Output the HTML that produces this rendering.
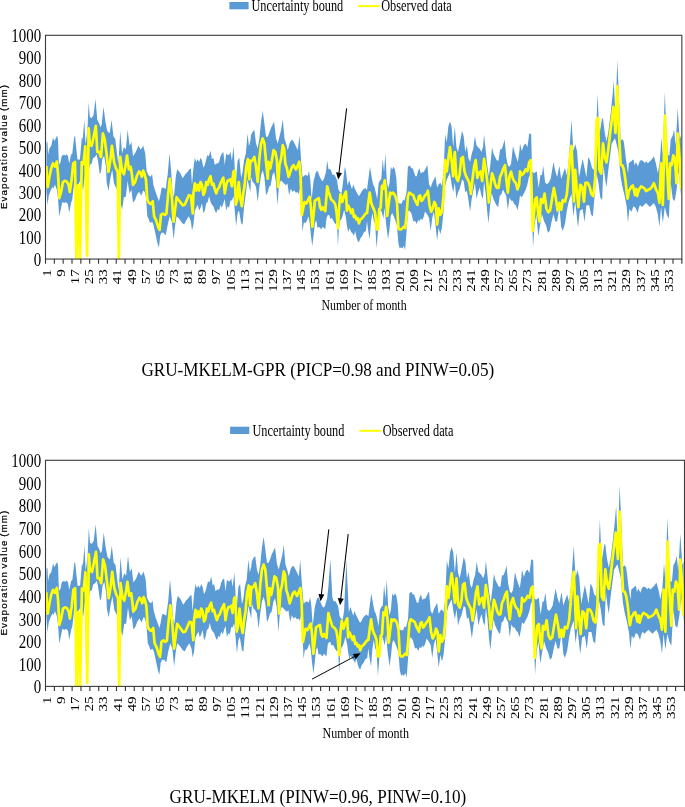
<!DOCTYPE html>
<html><head><meta charset="utf-8"><style>
html,body{margin:0;padding:0;background:#fff;width:685px;height:807px;overflow:hidden}
svg{display:block;will-change:transform}
.yl{font-family:"Liberation Serif",serif;font-size:19.5px;fill:#000}
.xl{font-family:"Liberation Serif",serif;font-size:15px;fill:#000}
.lg{font-family:"Liberation Serif",serif;font-size:16px;fill:#000}
.xt{font-family:"Liberation Serif",serif;font-size:14.7px;fill:#000}
.yt{font-family:"Liberation Sans",sans-serif;font-size:9.8px;letter-spacing:1.0px;word-spacing:-1.2px;fill:#000;stroke:#000;stroke-width:0.22px}
.cap{font-family:"Liberation Serif",serif;font-size:18px;fill:#000}
</style></head><body>
<svg width="685" height="807" viewBox="0 0 685 807">
<defs><marker id="ah" viewBox="0 0 10 10" refX="10" refY="5" markerWidth="6" markerHeight="7" orient="auto" markerUnits="userSpaceOnUse"><path d="M0,0L10,5L0,10z" fill="#000"/></marker></defs>
<rect x="229.4" y="2.0" width="19.2" height="7.3" fill="#5b9bd5"/>
<text transform="translate(251.5,10.7) scale(0.768,1)" class="lg">Uncertainty bound</text>
<line x1="358.1" y1="6.1" x2="379.7" y2="6.1" stroke="#ffff00" stroke-width="2"/>
<text transform="translate(381.2,10.7) scale(0.768,1)" class="lg">Observed data</text>
<clipPath id="cp1"><rect x="45.5" y="35.3" width="636.35" height="223.75"/></clipPath>
<g clip-path="url(#cp1)">
<polygon points="46.38,144.87 46.74,141.16 47.48,142.39 48.10,154.78 49.34,148.58 51.19,146.10 53.05,137.44 54.29,141.16 55.54,138.67 57.15,135.58 58.01,139.90 58.88,164.69 60.49,162.21 61.73,156.01 63.58,154.78 65.44,155.41 66.69,154.16 67.93,156.01 69.17,163.46 71.02,154.78 72.26,153.55 74.12,137.44 75.00,135.85 77.48,159.39 79.95,159.39 81.82,137.08 82.69,139.57 84.30,119.74 85.54,144.51 87.39,130.89 88.63,102.40 89.87,117.26 91.72,117.89 93.58,114.78 95.45,98.67 97.31,119.74 99.17,123.46 100.40,127.17 101.64,124.69 103.50,106.72 105.35,120.97 107.23,130.89 109.70,133.37 111.56,119.74 113.41,136.46 115.27,138.94 117.12,154.45 118.38,164.36 120.24,130.89 122.09,153.19 123.95,147.00 125.80,149.48 127.66,129.66 129.53,145.77 131.39,142.05 133.00,156.35 135.72,152.25 138.46,145.45 140.49,149.55 141.85,148.18 143.22,145.45 145.27,153.62 146.63,171.34 148.68,175.41 150.71,176.78 152.07,174.07 153.43,184.97 155.48,191.77 157.53,197.23 158.89,201.30 160.26,195.86 161.62,187.67 163.65,187.67 165.70,189.04 167.75,174.07 169.52,152.95 171.14,171.34 172.50,191.77 173.87,197.23 175.92,175.41 177.28,169.28 180.00,172.70 182.72,178.14 185.46,174.07 187.49,172.01 189.54,169.28 190.91,168.61 192.00,184.83 193.43,167.74 194.85,157.76 196.28,162.03 197.69,159.19 199.13,162.03 200.56,157.76 201.97,160.62 203.40,167.74 204.82,164.90 206.25,159.19 207.38,154.92 208.81,156.35 210.53,150.64 211.94,159.19 213.37,157.76 214.80,164.90 216.22,163.46 217.65,163.46 219.06,162.03 220.50,156.35 221.91,153.48 223.34,152.08 224.77,164.90 226.19,153.48 227.62,154.92 229.03,154.92 230.47,152.08 231.90,160.62 233.59,146.37 234.74,167.74 236.16,179.13 237.59,160.62 239.30,157.76 241.14,177.72 242.57,172.01 244.01,160.62 245.84,153.48 247.56,133.55 248.99,146.37 250.40,140.66 251.01,135.09 252.68,131.76 254.35,130.08 256.03,143.46 257.69,148.47 259.37,138.45 261.05,121.71 262.71,110.86 264.39,123.39 266.05,136.77 267.73,136.77 269.07,133.44 270.73,128.40 272.41,125.07 274.07,121.71 276.09,138.45 277.77,143.46 279.43,136.77 281.11,130.08 282.77,119.21 284.45,138.45 286.13,143.46 287.79,150.15 289.47,143.46 291.13,140.13 292.81,140.13 294.49,143.46 296.15,146.82 297.83,150.15 299.49,135.09 301.17,161.85 302.51,177.31 303.81,176.02 305.77,174.72 307.71,176.02 309.02,170.83 310.31,179.93 311.62,199.44 313.56,181.23 315.52,173.42 316.81,170.83 318.12,172.12 319.43,176.02 321.38,179.93 322.68,181.23 323.97,178.63 325.94,172.12 327.23,160.40 328.53,169.51 329.84,168.86 331.13,170.83 332.44,174.72 334.39,174.72 335.69,177.31 336.98,179.93 338.29,189.04 339.60,191.63 341.54,192.93 342.85,183.83 344.80,166.91 345.96,170.83 347.57,185.39 349.22,180.33 350.72,185.39 351.99,189.20 353.25,184.14 354.52,187.92 356.41,191.72 358.32,195.50 359.57,195.50 361.47,191.72 363.37,189.20 365.27,187.92 367.02,189.96 368.38,179.06 370.00,166.80 371.77,177.69 373.13,184.52 374.49,187.23 375.85,192.69 377.23,199.49 378.59,183.15 379.95,180.42 381.32,179.06 382.68,158.63 384.04,172.26 385.40,153.17 386.76,180.42 388.12,188.59 389.48,183.15 390.84,166.80 392.20,169.53 393.57,166.80 394.94,169.53 396.31,177.69 397.67,202.22 399.70,203.58 401.75,203.58 403.11,199.49 404.47,200.85 406.52,192.69 407.88,166.80 409.92,165.43 411.28,168.16 412.66,168.16 414.02,172.26 415.38,176.33 416.74,176.33 418.10,170.89 419.46,168.16 420.82,173.60 422.18,172.26 423.54,172.26 425.01,169.75 427.42,164.92 429.04,184.25 430.65,187.47 432.26,182.64 433.87,179.42 435.48,176.20 437.09,187.47 438.69,184.25 440.30,182.64 441.91,185.86 443.52,172.97 445.15,134.33 446.75,142.36 448.36,126.28 449.97,121.44 451.58,126.28 453.19,147.20 454.80,126.28 456.41,147.20 458.01,152.03 459.62,143.98 462.04,131.11 463.65,135.94 465.26,152.03 466.87,145.59 468.50,158.47 470.10,161.70 471.71,153.64 473.32,148.81 474.93,135.94 476.54,145.59 478.15,147.20 479.76,148.81 481.36,152.03 482.97,147.20 484.02,134.67 485.62,149.14 487.23,165.25 488.84,176.53 490.45,163.64 492.06,147.56 493.67,153.98 495.28,157.20 496.88,160.42 498.51,160.42 500.12,149.14 501.73,149.14 503.34,144.33 504.63,139.50 506.24,157.20 507.84,165.25 509.45,166.87 511.06,163.64 512.99,145.94 514.61,152.37 516.22,157.20 517.83,162.03 519.44,150.75 520.00,143.46 521.86,150.89 523.73,145.32 525.59,143.46 527.45,147.18 529.30,133.24 531.16,134.15 532.10,171.34 533.95,173.20 536.74,171.34 538.60,188.08 540.46,175.05 541.94,175.05 543.25,165.77 545.11,182.48 546.96,184.34 548.82,182.48 550.67,178.77 553.47,162.05 555.32,171.34 557.18,176.91 559.42,165.77 561.21,179.06 563.12,173.29 565.01,168.07 566.87,175.50 568.72,160.62 571.51,119.74 573.37,151.34 575.23,143.91 577.10,151.34 578.96,177.36 580.81,168.07 582.67,158.77 584.52,168.07 586.38,177.36 588.25,156.91 590.11,160.62 591.97,168.07 593.82,169.93 595.68,145.77 597.53,93.72 599.41,134.60 602.18,117.89 603.01,118.98 604.75,132.86 606.48,141.54 608.21,132.86 610.83,112.05 612.56,94.71 613.76,80.81 615.51,117.26 617.24,60.00 618.62,89.49 620.65,140.42 622.39,139.10 623.68,141.27 624.56,147.35 625.85,158.63 627.16,167.29 628.03,173.38 628.89,162.95 630.18,162.10 631.49,161.23 632.80,159.48 633.66,160.35 634.53,165.57 635.82,162.10 637.13,164.69 637.99,166.42 639.30,162.10 640.59,160.35 641.90,160.35 643.19,161.23 645.03,162.95 645.97,161.29 647.95,163.26 649.93,161.29 651.91,159.30 653.89,156.33 655.87,163.26 657.86,173.17 659.84,161.29 661.43,137.49 662.81,155.34 664.79,91.89 666.38,129.57 667.76,155.34 669.35,155.34 670.75,139.48 672.73,135.52 674.11,129.57 675.70,145.43 677.68,107.75 679.66,139.48 680.97,135.52 680.97,194.99 680.65,191.03 678.67,171.21 676.69,189.04 674.71,200.94 672.73,198.95 670.75,183.09 668.77,218.78 666.77,214.81 664.79,206.89 662.81,222.74 661.03,206.89 659.44,226.72 657.86,214.81 655.87,206.89 653.89,202.91 651.91,204.90 649.93,206.89 647.95,204.90 645.97,202.91 643.97,204.90 641.99,206.89 640.01,204.90 638.88,207.65 637.52,213.11 635.48,207.65 633.43,206.29 631.38,211.75 629.35,209.02 627.99,222.65 626.63,206.29 624.58,195.39 622.53,187.23 620.50,176.33 618.44,151.81 615.05,138.18 611.64,143.62 610.28,154.51 608.23,170.87 606.46,187.23 605.51,181.77 603.46,165.43 602.18,199.67 600.33,197.81 598.47,182.93 596.61,173.64 594.76,194.10 592.88,216.40 591.03,214.55 589.17,205.24 586.38,205.24 584.52,221.97 582.67,208.95 579.87,210.81 578.02,227.55 575.23,201.52 573.37,216.40 571.51,194.10 568.72,201.52 566.87,210.81 565.01,223.83 562.75,230.88 561.21,227.03 559.42,206.65 557.18,221.53 555.32,221.53 553.47,214.10 551.61,221.53 549.75,230.81 547.90,232.67 546.02,225.24 544.17,221.53 541.94,214.10 540.09,225.24 538.23,236.38 536.37,214.10 534.52,225.24 533.01,247.55 531.90,212.24 530.79,180.63 529.30,175.05 527.45,184.34 525.59,189.93 523.73,193.65 521.86,197.36 520.00,195.50 519.12,202.28 517.51,210.34 515.89,205.51 514.28,203.90 512.67,200.67 511.06,200.67 509.45,197.47 507.84,210.34 506.24,195.86 504.63,192.64 503.02,189.42 501.41,194.25 499.78,195.86 498.17,207.12 496.57,205.51 494.96,202.28 493.35,199.09 491.74,192.64 490.13,205.51 488.52,223.23 487.23,211.95 485.62,192.64 484.02,181.36 482.97,198.73 481.36,195.50 479.76,187.47 478.15,192.31 476.54,198.73 474.93,182.64 473.32,190.69 471.71,198.73 470.10,211.62 468.50,200.34 466.87,190.69 465.26,192.31 463.65,181.03 462.04,179.42 459.62,189.08 458.01,192.31 456.41,198.73 454.80,182.64 453.19,192.31 451.58,184.25 449.97,172.97 448.36,176.20 446.75,179.42 445.15,185.86 443.52,211.62 441.91,227.73 440.30,234.17 438.69,227.73 437.09,240.61 435.48,224.50 433.87,211.62 432.26,218.06 430.65,230.95 429.04,218.06 427.42,214.84 425.01,211.62 423.54,217.21 422.18,219.94 420.82,218.57 419.46,221.30 418.10,219.94 416.74,224.01 415.38,221.30 413.33,221.30 411.28,213.11 409.24,210.38 407.88,211.75 406.52,232.20 405.16,249.90 403.80,245.83 402.42,248.53 401.06,247.17 399.70,248.53 398.34,243.10 396.98,225.38 395.62,221.30 393.57,215.84 392.20,213.11 390.84,215.84 389.48,229.47 388.12,239.00 386.09,224.01 384.71,207.68 383.35,218.57 381.99,213.11 380.63,209.04 379.27,215.84 377.90,232.20 376.54,248.53 375.18,224.01 373.82,221.30 372.46,213.11 371.10,221.30 369.74,239.00 368.38,232.20 367.02,221.30 365.90,230.90 363.99,232.18 362.10,235.96 360.21,238.49 358.94,242.29 357.68,241.02 356.41,237.23 355.15,230.90 353.88,235.96 352.63,233.43 351.35,232.18 349.46,228.37 348.19,232.18 346.94,225.85 345.96,217.66 344.14,209.85 342.85,215.06 341.54,218.95 340.24,220.25 338.95,228.06 337.90,246.27 336.98,222.87 335.69,224.17 334.39,222.87 333.09,220.25 331.79,217.66 330.48,218.95 329.19,215.06 327.88,215.06 326.59,217.66 325.28,229.36 323.97,228.06 322.68,226.76 321.38,229.36 320.07,228.06 318.78,226.76 317.47,228.06 316.18,220.25 314.87,222.87 313.56,235.87 312.27,246.27 310.96,235.87 309.67,222.87 308.37,216.36 307.06,220.25 305.77,222.87 303.81,222.87 302.51,231.98 301.21,202.04 299.92,189.04 298.61,194.23 297.30,191.63 296.01,192.93 294.15,190.29 292.47,191.95 290.81,188.61 289.13,195.30 287.45,183.60 285.79,185.26 284.11,183.60 282.45,181.92 280.77,180.25 279.09,185.26 277.43,205.33 275.75,180.25 274.07,171.90 272.41,175.23 270.73,185.26 269.07,186.94 267.73,191.95 266.05,195.30 264.39,176.91 262.71,170.22 261.05,175.23 259.37,186.94 257.69,201.99 256.03,186.94 254.35,183.60 252.68,181.92 251.01,176.91 250.40,191.95 248.99,186.26 247.56,179.13 245.84,193.38 244.01,207.63 242.57,224.70 241.14,223.29 239.02,210.47 237.59,213.32 236.16,226.14 234.74,210.47 233.59,196.22 231.90,200.49 230.47,200.49 229.03,207.63 227.62,206.20 226.19,210.47 224.77,199.09 223.34,203.36 221.91,207.63 220.50,204.77 219.06,210.47 217.65,209.04 216.22,213.32 214.80,210.47 213.37,206.20 211.94,204.77 210.53,201.93 209.09,196.22 207.68,201.93 206.25,203.36 204.82,210.47 203.40,213.32 201.97,203.36 200.56,207.63 199.13,210.47 197.69,204.77 196.28,207.63 194.85,210.47 193.43,224.70 192.00,230.41 190.91,221.75 188.86,216.29 186.13,220.39 184.10,224.46 182.05,223.12 179.33,219.02 176.61,216.29 175.24,224.46 173.60,239.45 171.83,221.75 169.78,216.29 167.75,224.46 165.70,235.38 163.65,232.65 161.62,232.65 160.26,235.38 158.89,247.64 157.53,243.54 155.48,234.01 153.43,224.46 152.07,221.75 150.04,223.12 148.68,219.02 147.32,216.29 145.94,197.23 144.58,191.77 143.22,190.40 141.18,195.86 139.13,191.77 137.08,194.50 135.05,199.94 133.00,202.67 131.39,189.64 129.53,193.38 127.66,180.98 125.80,197.09 123.95,197.09 122.09,209.49 120.24,202.04 117.76,190.90 115.89,187.18 114.03,183.47 112.18,169.82 110.32,178.50 108.46,190.90 106.61,182.21 105.99,166.82 104.11,155.68 102.26,159.39 101.02,171.79 99.78,174.27 97.93,160.62 96.69,154.45 94.83,156.91 92.96,158.16 91.72,163.62 89.87,164.87 88.63,171.07 86.77,173.56 84.92,174.79 83.06,189.64 81.82,187.18 79.95,180.98 78.10,185.93 76.24,185.93 75.00,174.79 72.26,199.40 71.02,203.11 69.17,213.02 67.93,204.34 66.06,201.88 64.20,203.11 62.35,201.88 60.49,210.54 59.25,216.74 58.01,198.15 56.78,189.49 54.92,184.52 53.67,188.23 52.43,187.00 50.57,190.72 48.72,195.68 47.48,205.60 46.49,191.95 46.38,189.49" fill="#5b9bd5"/>
<polyline points="46.38,165.93 46.86,179.57 47.73,187.00 49.34,177.09 51.19,168.41 53.05,163.46 54.92,166.55 56.78,161.61 58.01,173.38 59.25,198.15 61.11,191.95 62.96,182.04 64.82,180.80 66.69,181.43 68.55,184.52 69.79,191.95 71.64,179.57 73.25,163.46 75.00,161.88 76.43,259.05 78.20,185.21 79.97,259.05 81.74,162.17 83.50,163.96 85.27,146.06 87.04,255.69 88.63,128.42 89.87,144.51 91.72,145.77 93.58,137.08 95.82,125.94 97.31,151.96 99.17,151.96 101.02,156.91 102.88,133.37 104.73,139.57 106.61,154.45 108.46,171.79 110.32,160.62 111.93,145.77 114.03,161.88 115.89,168.07 117.76,171.79 118.86,259.05 120.24,156.91 122.09,170.53 123.95,174.27 125.80,164.36 127.04,155.68 128.90,169.30 130.77,166.82 132.01,175.50 133.00,184.97 135.05,182.24 137.08,175.41 139.13,171.34 140.49,172.70 141.85,176.78 143.22,170.65 144.58,174.07 145.94,179.51 147.32,199.94 148.68,202.67 150.71,204.03 152.76,201.30 154.12,216.29 156.17,220.39 158.20,227.19 159.57,229.92 160.93,214.93 162.98,213.56 165.03,214.93 166.39,213.56 168.16,194.50 169.78,178.84 171.83,197.23 173.60,221.75 175.24,208.12 176.61,197.23 178.64,199.94 180.69,202.67 182.72,205.39 184.77,204.72 186.82,199.94 188.86,195.17 190.91,195.86 192.71,213.32 193.43,193.38 194.85,183.40 196.28,190.54 197.69,184.83 199.13,190.54 200.56,181.99 201.97,184.83 203.40,194.81 204.82,191.95 206.25,181.99 207.68,184.83 209.09,179.13 210.53,176.28 211.94,184.83 213.37,183.40 214.80,189.11 216.22,193.38 217.65,189.11 219.06,187.67 220.50,183.40 221.91,180.56 223.34,177.72 224.77,193.38 226.19,184.83 227.62,180.56 229.03,180.56 230.47,179.13 231.90,186.26 233.31,172.01 234.46,170.58 235.87,204.77 237.31,199.09 238.72,181.99 240.44,199.09 241.87,206.20 243.28,193.38 244.71,184.83 246.13,167.74 247.84,159.19 249.27,179.13 250.40,160.62 251.01,161.85 252.68,160.17 254.35,156.84 256.03,166.87 257.69,181.92 259.37,158.52 261.05,143.46 262.71,138.45 264.39,143.46 266.05,161.85 267.73,178.59 268.56,161.85 270.24,168.54 271.90,160.17 273.58,150.15 275.26,151.83 276.92,160.17 278.10,186.94 279.43,165.21 281.11,158.52 282.77,145.14 284.11,148.47 285.28,163.53 286.96,168.54 288.64,176.91 290.30,171.90 291.98,166.87 293.64,165.21 295.32,168.54 296.01,169.51 299.26,161.72 300.55,176.02 301.86,215.06 303.17,208.55 304.46,202.04 306.42,203.34 308.37,199.44 309.67,196.85 310.96,207.25 312.27,226.76 313.56,215.06 314.87,200.74 316.81,199.44 318.78,198.15 320.07,207.25 321.38,209.85 322.68,207.25 323.97,209.20 325.28,211.15 327.23,186.42 328.53,191.63 329.84,195.53 331.13,199.44 332.69,200.74 334.00,202.04 335.30,204.63 336.59,212.44 337.90,228.06 339.19,205.95 340.50,194.23 342.20,202.04 344.14,195.53 345.96,191.63 346.94,210.68 348.19,205.62 349.46,208.15 351.35,213.20 352.63,209.42 353.88,217.01 355.15,215.73 356.41,219.54 357.68,218.26 358.94,223.32 360.21,219.54 362.10,218.26 363.99,215.73 365.90,213.20 367.02,213.11 368.38,202.22 369.74,192.69 371.10,202.22 372.46,206.31 373.82,209.04 375.18,213.11 376.54,229.47 377.90,229.47 379.27,209.04 380.63,207.68 381.99,185.86 383.35,188.59 384.71,180.42 386.09,192.69 387.17,215.84 388.53,204.95 390.17,192.69 391.53,194.05 392.89,192.69 394.26,194.05 395.62,196.78 396.98,202.22 398.34,228.11 399.70,229.47 401.06,229.47 402.42,228.11 403.80,226.74 405.16,228.11 406.52,215.84 407.88,196.78 409.24,192.69 411.28,194.05 413.33,195.42 414.69,199.49 416.05,202.22 417.41,204.95 418.77,196.78 420.13,195.42 421.51,200.85 422.87,199.49 424.23,196.78 425.01,195.50 426.62,193.89 427.91,190.69 429.52,205.17 431.13,211.62 432.74,208.39 434.35,201.95 435.95,205.17 437.09,224.50 438.69,208.39 440.30,214.84 441.91,211.62 443.52,195.50 445.15,160.09 446.75,171.36 448.36,158.47 449.97,147.20 451.58,160.09 453.19,176.20 454.80,152.03 456.41,177.81 458.01,181.03 459.62,174.58 461.25,158.47 462.86,156.86 464.47,171.36 466.07,176.20 467.68,179.42 469.29,182.64 470.90,193.89 472.51,179.42 474.12,166.53 475.73,160.09 477.35,177.81 478.96,172.97 480.57,171.36 482.18,181.03 484.02,158.81 485.62,168.48 487.23,181.36 488.84,202.28 490.45,186.20 492.06,173.31 493.67,178.14 495.28,184.59 496.88,187.81 498.51,187.81 500.12,176.53 501.73,173.31 503.34,168.48 504.94,165.25 506.55,181.36 507.84,192.64 509.45,176.53 511.06,171.70 512.67,178.14 514.28,181.36 515.89,182.98 517.51,189.42 519.12,184.59 520.00,171.34 521.86,175.05 523.73,173.20 525.59,169.48 527.45,171.34 529.30,162.05 530.79,160.17 532.64,230.81 533.95,214.10 535.26,199.22 536.74,197.36 538.23,214.10 539.52,221.53 540.83,199.22 542.68,202.93 544.54,193.65 546.41,208.50 548.27,212.24 550.13,210.36 551.98,199.22 553.84,188.08 555.69,197.36 557.55,210.36 559.42,202.93 561.21,209.76 562.75,200.16 565.01,201.52 566.87,194.10 568.72,173.64 570.22,155.05 571.51,145.77 572.82,173.64 573.94,201.52 575.23,169.93 576.53,186.64 578.39,207.10 580.25,184.79 582.12,186.64 583.98,201.52 585.46,182.93 587.69,182.93 589.54,186.64 591.40,194.10 593.27,195.95 595.13,179.22 596.61,119.74 598.10,117.89 599.41,169.93 601.26,173.64 603.01,143.28 604.75,157.15 606.48,162.37 608.21,150.22 609.96,134.60 611.69,120.73 613.42,106.83 615.51,132.86 617.24,86.02 618.98,132.86 620.65,164.69 622.39,165.57 623.68,169.04 624.99,176.84 625.85,183.78 626.72,192.44 627.58,198.53 628.89,190.72 630.18,188.97 631.49,186.38 632.80,185.50 634.09,190.72 634.95,195.06 636.26,188.97 637.13,195.91 637.99,192.44 639.30,188.97 641.04,186.38 642.77,187.25 645.03,188.97 645.97,191.03 647.95,190.02 649.93,189.04 651.91,187.05 653.89,183.09 655.87,189.04 657.86,193.00 659.44,202.91 661.03,163.26 662.81,204.90 664.99,115.69 666.77,163.26 668.77,198.95 670.15,163.26 671.74,165.25 673.31,155.34 674.90,159.30 676.49,183.09 677.68,133.53 679.66,159.30 680.97,189.04" fill="none" stroke="#ffff00" stroke-width="2.7" stroke-linejoin="round"/>
</g>
<rect x="45.5" y="35.3" width="636.35" height="223.75" fill="none" stroke="#3a3a3a" stroke-width="1.1"/>
<path d="M45.50,259.05v4.6 M54.34,259.05v4.6 M63.18,259.05v4.6 M72.01,259.05v4.6 M80.85,259.05v4.6 M89.69,259.05v4.6 M98.53,259.05v4.6 M107.37,259.05v4.6 M116.21,259.05v4.6 M125.04,259.05v4.6 M133.88,259.05v4.6 M142.72,259.05v4.6 M151.56,259.05v4.6 M160.40,259.05v4.6 M169.23,259.05v4.6 M178.07,259.05v4.6 M186.91,259.05v4.6 M195.75,259.05v4.6 M204.59,259.05v4.6 M213.43,259.05v4.6 M222.26,259.05v4.6 M231.10,259.05v4.6 M239.94,259.05v4.6 M248.78,259.05v4.6 M257.62,259.05v4.6 M266.45,259.05v4.6 M275.29,259.05v4.6 M284.13,259.05v4.6 M292.97,259.05v4.6 M301.81,259.05v4.6 M310.65,259.05v4.6 M319.48,259.05v4.6 M328.32,259.05v4.6 M337.16,259.05v4.6 M346.00,259.05v4.6 M354.84,259.05v4.6 M363.68,259.05v4.6 M372.51,259.05v4.6 M381.35,259.05v4.6 M390.19,259.05v4.6 M399.03,259.05v4.6 M407.87,259.05v4.6 M416.70,259.05v4.6 M425.54,259.05v4.6 M434.38,259.05v4.6 M443.22,259.05v4.6 M452.06,259.05v4.6 M460.90,259.05v4.6 M469.73,259.05v4.6 M478.57,259.05v4.6 M487.41,259.05v4.6 M496.25,259.05v4.6 M505.09,259.05v4.6 M513.92,259.05v4.6 M522.76,259.05v4.6 M531.60,259.05v4.6 M540.44,259.05v4.6 M549.28,259.05v4.6 M558.12,259.05v4.6 M566.95,259.05v4.6 M575.79,259.05v4.6 M584.63,259.05v4.6 M593.47,259.05v4.6 M602.31,259.05v4.6 M611.14,259.05v4.6 M619.98,259.05v4.6 M628.82,259.05v4.6 M637.66,259.05v4.6 M646.50,259.05v4.6 M655.34,259.05v4.6 M664.17,259.05v4.6 M673.01,259.05v4.6 M681.85,259.05v4.6" stroke="#333" stroke-width="1.1"/>
<text x="0" y="0" transform="translate(41.2,266.35) scale(0.765,1)" text-anchor="end" class="yl">0</text>
<text x="0" y="0" transform="translate(41.2,243.91) scale(0.765,1)" text-anchor="end" class="yl">100</text>
<text x="0" y="0" transform="translate(41.2,221.47) scale(0.765,1)" text-anchor="end" class="yl">200</text>
<text x="0" y="0" transform="translate(41.2,199.03) scale(0.765,1)" text-anchor="end" class="yl">300</text>
<text x="0" y="0" transform="translate(41.2,176.59) scale(0.765,1)" text-anchor="end" class="yl">400</text>
<text x="0" y="0" transform="translate(41.2,154.15) scale(0.765,1)" text-anchor="end" class="yl">500</text>
<text x="0" y="0" transform="translate(41.2,131.71) scale(0.765,1)" text-anchor="end" class="yl">600</text>
<text x="0" y="0" transform="translate(41.2,109.27) scale(0.765,1)" text-anchor="end" class="yl">700</text>
<text x="0" y="0" transform="translate(41.2,86.83) scale(0.765,1)" text-anchor="end" class="yl">800</text>
<text x="0" y="0" transform="translate(41.2,64.39) scale(0.765,1)" text-anchor="end" class="yl">900</text>
<text x="0" y="0" transform="translate(41.2,41.95) scale(0.765,1)" text-anchor="end" class="yl">1000</text>
<text transform="translate(50.68,269.25) scale(0.85,1) rotate(-90)" text-anchor="end" class="xl">1</text>
<text transform="translate(64.82,269.25) scale(0.85,1) rotate(-90)" text-anchor="end" class="xl">9</text>
<text transform="translate(78.97,269.25) scale(0.85,1) rotate(-90)" text-anchor="end" class="xl">17</text>
<text transform="translate(93.11,269.25) scale(0.85,1) rotate(-90)" text-anchor="end" class="xl">25</text>
<text transform="translate(107.25,269.25) scale(0.85,1) rotate(-90)" text-anchor="end" class="xl">33</text>
<text transform="translate(121.39,269.25) scale(0.85,1) rotate(-90)" text-anchor="end" class="xl">41</text>
<text transform="translate(135.53,269.25) scale(0.85,1) rotate(-90)" text-anchor="end" class="xl">49</text>
<text transform="translate(149.67,269.25) scale(0.85,1) rotate(-90)" text-anchor="end" class="xl">57</text>
<text transform="translate(163.81,269.25) scale(0.85,1) rotate(-90)" text-anchor="end" class="xl">65</text>
<text transform="translate(177.95,269.25) scale(0.85,1) rotate(-90)" text-anchor="end" class="xl">73</text>
<text transform="translate(192.09,269.25) scale(0.85,1) rotate(-90)" text-anchor="end" class="xl">81</text>
<text transform="translate(206.24,269.25) scale(0.85,1) rotate(-90)" text-anchor="end" class="xl">89</text>
<text transform="translate(220.38,269.25) scale(0.85,1) rotate(-90)" text-anchor="end" class="xl">97</text>
<text transform="translate(234.52,269.25) scale(0.85,1) rotate(-90)" text-anchor="end" class="xl">105</text>
<text transform="translate(248.66,269.25) scale(0.85,1) rotate(-90)" text-anchor="end" class="xl">113</text>
<text transform="translate(262.80,269.25) scale(0.85,1) rotate(-90)" text-anchor="end" class="xl">121</text>
<text transform="translate(276.94,269.25) scale(0.85,1) rotate(-90)" text-anchor="end" class="xl">129</text>
<text transform="translate(291.08,269.25) scale(0.85,1) rotate(-90)" text-anchor="end" class="xl">137</text>
<text transform="translate(305.22,269.25) scale(0.85,1) rotate(-90)" text-anchor="end" class="xl">145</text>
<text transform="translate(319.36,269.25) scale(0.85,1) rotate(-90)" text-anchor="end" class="xl">153</text>
<text transform="translate(333.51,269.25) scale(0.85,1) rotate(-90)" text-anchor="end" class="xl">161</text>
<text transform="translate(347.65,269.25) scale(0.85,1) rotate(-90)" text-anchor="end" class="xl">169</text>
<text transform="translate(361.79,269.25) scale(0.85,1) rotate(-90)" text-anchor="end" class="xl">177</text>
<text transform="translate(375.93,269.25) scale(0.85,1) rotate(-90)" text-anchor="end" class="xl">185</text>
<text transform="translate(390.07,269.25) scale(0.85,1) rotate(-90)" text-anchor="end" class="xl">193</text>
<text transform="translate(404.21,269.25) scale(0.85,1) rotate(-90)" text-anchor="end" class="xl">201</text>
<text transform="translate(418.35,269.25) scale(0.85,1) rotate(-90)" text-anchor="end" class="xl">209</text>
<text transform="translate(432.49,269.25) scale(0.85,1) rotate(-90)" text-anchor="end" class="xl">217</text>
<text transform="translate(446.63,269.25) scale(0.85,1) rotate(-90)" text-anchor="end" class="xl">225</text>
<text transform="translate(460.78,269.25) scale(0.85,1) rotate(-90)" text-anchor="end" class="xl">233</text>
<text transform="translate(474.92,269.25) scale(0.85,1) rotate(-90)" text-anchor="end" class="xl">241</text>
<text transform="translate(489.06,269.25) scale(0.85,1) rotate(-90)" text-anchor="end" class="xl">249</text>
<text transform="translate(503.20,269.25) scale(0.85,1) rotate(-90)" text-anchor="end" class="xl">257</text>
<text transform="translate(517.34,269.25) scale(0.85,1) rotate(-90)" text-anchor="end" class="xl">265</text>
<text transform="translate(531.48,269.25) scale(0.85,1) rotate(-90)" text-anchor="end" class="xl">273</text>
<text transform="translate(545.62,269.25) scale(0.85,1) rotate(-90)" text-anchor="end" class="xl">281</text>
<text transform="translate(559.76,269.25) scale(0.85,1) rotate(-90)" text-anchor="end" class="xl">289</text>
<text transform="translate(573.90,269.25) scale(0.85,1) rotate(-90)" text-anchor="end" class="xl">297</text>
<text transform="translate(588.05,269.25) scale(0.85,1) rotate(-90)" text-anchor="end" class="xl">305</text>
<text transform="translate(602.19,269.25) scale(0.85,1) rotate(-90)" text-anchor="end" class="xl">313</text>
<text transform="translate(616.33,269.25) scale(0.85,1) rotate(-90)" text-anchor="end" class="xl">321</text>
<text transform="translate(630.47,269.25) scale(0.85,1) rotate(-90)" text-anchor="end" class="xl">329</text>
<text transform="translate(644.61,269.25) scale(0.85,1) rotate(-90)" text-anchor="end" class="xl">337</text>
<text transform="translate(658.75,269.25) scale(0.85,1) rotate(-90)" text-anchor="end" class="xl">345</text>
<text transform="translate(672.89,269.25) scale(0.85,1) rotate(-90)" text-anchor="end" class="xl">353</text>
<text transform="translate(7.0,209.00) scale(0.86,1) rotate(-90)" class="yt" style="letter-spacing:1.07px">Evaporation value (mm)</text>
<text transform="translate(321.4,310.1) scale(0.81,1)" class="xt">Number of month</text>
<line x1="346.6" y1="108.4" x2="338.90" y2="173.54" stroke="#000" stroke-width="1.05"/><polygon points="338.2,179.5 336.04,172.20 342.00,172.90" fill="#000"/>
<text transform="translate(141.4,375.7) scale(0.952,1)" class="cap">GRU-MKELM-GPR (PICP=0.98 and PINW=0.05)</text>
<rect x="230.1" y="426.7" width="19.2" height="7.3" fill="#5b9bd5"/>
<text transform="translate(252.4,435.7) scale(0.771,1)" class="lg">Uncertainty bound</text>
<line x1="359.4" y1="430.8" x2="381.2" y2="430.8" stroke="#ffff00" stroke-width="2"/>
<text transform="translate(382.7,435.7) scale(0.771,1)" class="lg">Observed data</text>
<clipPath id="cp2"><rect x="45.5" y="460.3" width="639.0" height="226.09999999999997"/></clipPath>
<g clip-path="url(#cp2)">
<polygon points="46.39,571.02 46.74,567.27 47.49,568.51 48.11,581.04 49.35,574.77 51.22,572.26 53.08,563.51 54.32,567.27 55.58,564.76 57.20,561.64 58.07,566.00 58.94,591.05 60.55,588.54 61.79,582.28 63.66,581.04 65.52,581.67 66.78,580.40 68.02,582.28 69.27,589.81 71.13,581.04 72.37,579.79 74.24,563.51 75.12,561.91 77.61,585.70 80.09,585.70 81.98,563.15 82.85,565.66 84.46,545.63 85.70,570.66 87.57,556.89 88.81,528.11 90.05,543.12 91.92,543.75 93.78,540.61 95.66,524.33 97.53,545.63 99.39,549.38 100.63,553.14 101.87,550.63 103.74,532.47 105.60,546.87 107.48,556.89 109.97,559.40 111.83,545.63 113.70,562.52 115.56,565.03 117.42,580.70 118.68,590.71 120.55,556.89 122.41,579.43 124.27,573.17 126.14,575.68 128.00,555.65 129.88,571.93 131.75,568.17 133.36,582.62 136.10,578.48 138.85,571.61 140.89,575.75 142.26,574.37 143.62,571.61 145.68,579.86 147.05,597.77 149.11,601.88 151.15,603.26 152.51,600.53 153.88,611.54 155.94,618.41 158.00,623.93 159.37,628.04 160.73,622.55 162.10,614.27 164.14,614.27 166.20,615.65 168.26,600.53 170.03,579.18 171.67,597.77 173.03,618.41 174.40,623.93 176.46,601.88 177.83,595.69 180.56,599.15 183.29,604.64 186.04,600.53 188.09,598.45 190.14,595.69 191.51,595.01 192.61,611.40 194.05,594.13 195.47,584.04 196.91,588.36 198.33,585.49 199.77,588.36 201.20,584.04 202.62,586.94 204.06,594.13 205.48,591.26 206.92,585.49 208.05,581.17 209.49,582.62 211.21,576.85 212.63,585.49 214.07,584.04 215.51,591.26 216.93,589.81 218.37,589.81 219.79,588.36 221.22,582.62 222.64,579.73 224.08,578.30 225.52,591.26 226.94,579.73 228.38,581.17 229.80,581.17 231.24,578.30 232.67,586.94 234.38,572.54 235.53,594.13 236.95,605.64 238.39,586.94 240.11,584.04 241.96,604.21 243.39,598.45 244.83,586.94 246.68,579.73 248.40,559.58 249.84,572.54 251.26,566.77 251.86,561.14 253.55,557.77 255.22,556.08 256.90,569.60 258.57,574.66 260.26,564.53 261.94,547.62 263.61,536.65 265.30,549.32 266.97,562.84 268.65,562.84 270.00,559.47 271.67,554.38 273.36,551.01 275.03,547.62 277.05,564.53 278.74,569.60 280.40,562.84 282.09,556.08 283.76,545.09 285.44,564.53 287.13,569.60 288.80,576.36 290.49,569.60 292.15,566.23 293.84,566.23 295.53,569.60 297.20,572.99 298.88,576.36 300.21,559.78 302.24,588.18 303.58,603.81 304.88,602.49 306.85,601.18 308.80,602.49 310.12,597.25 311.41,606.45 312.73,626.17 314.68,607.76 316.65,599.87 317.94,597.25 319.26,598.56 320.57,602.49 322.52,606.45 323.84,607.76 325.13,605.14 327.10,598.56 328.40,586.71 330.39,558.88 332.32,597.25 333.64,601.18 335.59,601.18 336.90,603.81 338.20,606.45 339.51,615.65 340.82,618.28 342.78,619.59 344.09,610.39 346.36,559.78 348.83,611.97 350.48,606.86 351.99,611.97 353.27,615.81 354.53,610.70 355.81,614.52 357.70,618.37 359.62,622.19 360.88,622.19 362.78,618.37 364.70,615.81 366.60,614.52 368.35,616.58 369.72,605.57 371.35,593.18 373.13,604.19 374.50,611.09 375.86,613.82 377.23,619.34 378.61,626.21 379.98,609.71 381.35,606.95 382.71,605.57 384.08,584.93 385.45,598.70 386.81,579.41 388.18,606.95 389.55,615.20 390.91,609.71 392.28,593.18 393.65,595.94 395.02,593.18 396.40,595.94 397.77,604.19 399.13,628.97 401.17,630.35 403.23,630.35 404.60,626.21 405.97,627.59 408.03,619.34 409.39,593.18 411.43,591.80 412.80,594.56 414.19,594.56 415.55,598.70 416.92,602.81 418.29,602.81 419.65,597.32 421.02,594.56 422.39,600.05 423.75,598.70 425.12,598.70 426.59,596.16 429.01,591.28 430.64,610.81 432.25,614.07 433.87,609.19 435.49,605.93 437.10,602.68 438.72,614.07 440.33,610.81 441.95,609.19 443.56,612.44 445.18,599.42 446.81,560.37 448.42,568.49 450.04,552.23 451.66,547.35 453.27,552.23 454.89,573.37 456.50,552.23 458.12,573.37 459.73,578.26 461.35,570.12 463.78,557.12 465.39,562.00 467.01,578.26 468.62,571.74 470.26,584.77 471.87,588.02 473.49,579.88 475.10,575.00 476.72,562.00 478.33,571.74 479.95,573.37 481.56,575.00 483.18,578.26 484.79,573.37 485.84,560.71 487.46,575.34 489.07,591.62 490.69,603.01 492.30,589.99 493.92,573.73 495.53,580.22 497.15,583.48 498.76,586.74 500.40,586.74 502.01,575.34 503.63,575.34 505.24,570.48 506.54,565.59 508.15,583.48 509.77,591.62 511.38,593.25 513.00,589.99 514.93,572.11 516.57,578.60 518.18,583.48 519.80,588.36 521.41,576.97 521.98,569.60 523.84,577.10 525.73,571.47 527.59,569.60 529.45,573.35 531.32,559.26 533.18,560.19 534.12,597.77 535.99,599.65 538.79,597.77 540.65,614.68 542.52,601.52 544.01,601.52 545.32,592.14 547.19,609.03 549.05,610.91 550.91,609.03 552.78,605.28 555.58,588.39 557.45,597.77 559.31,603.40 561.56,592.14 563.36,605.57 565.27,599.74 567.17,594.47 569.04,601.97 570.90,586.94 573.70,545.63 575.57,577.56 577.43,570.05 579.31,577.56 581.18,603.85 583.04,594.47 584.90,585.06 586.77,594.47 588.63,603.85 590.51,583.19 592.38,586.94 594.24,594.47 596.10,596.34 597.97,571.93 599.83,519.33 601.71,560.64 604.50,543.75 605.33,544.86 607.07,558.88 608.81,567.65 610.55,558.88 613.18,537.85 614.92,520.33 616.13,506.29 617.88,543.12 619.62,485.26 621.01,515.06 623.05,566.52 624.79,565.19 626.08,567.38 626.97,573.53 628.27,584.93 629.58,593.68 630.45,599.83 631.32,589.29 632.62,588.43 633.93,587.55 635.24,585.79 636.11,586.67 636.98,591.94 638.28,588.43 639.59,591.05 640.46,592.79 641.78,588.43 643.07,586.67 644.38,586.67 645.68,587.55 647.53,589.29 648.47,587.62 650.46,589.61 652.44,587.62 654.43,585.60 656.42,582.60 658.41,589.61 660.41,599.62 662.40,587.62 664.00,563.56 665.38,581.60 667.37,517.48 668.97,555.56 670.35,581.60 671.95,581.60 673.35,565.57 675.34,561.57 676.73,555.56 678.32,571.59 680.31,533.51 682.30,565.57 683.61,561.57 683.61,621.67 683.29,617.67 681.30,597.63 679.32,615.65 677.33,627.68 675.34,625.67 673.35,609.64 671.37,645.70 669.36,641.70 667.37,633.70 665.38,649.70 663.59,633.70 661.99,653.73 660.41,641.70 658.41,633.70 656.42,629.67 654.43,631.68 652.44,633.70 650.46,631.68 648.47,629.67 646.46,631.68 644.47,633.70 642.49,631.68 641.35,634.46 639.98,639.98 637.94,634.46 635.88,633.09 633.82,638.60 631.78,635.84 630.42,649.61 629.05,633.09 626.99,622.07 624.93,613.82 622.89,602.81 620.83,578.03 617.42,564.26 614.00,569.76 612.63,580.77 610.57,597.29 608.80,613.82 607.84,608.31 605.78,591.80 604.50,626.39 602.64,624.52 600.77,609.48 598.91,600.10 597.05,620.76 595.16,643.31 593.30,641.43 591.44,632.02 588.63,632.02 586.77,648.94 584.90,635.78 582.10,637.65 580.24,654.57 577.43,628.27 575.57,643.31 573.70,620.76 570.90,628.27 569.04,637.65 567.17,650.81 564.90,657.93 563.36,654.05 561.56,633.45 559.31,648.48 557.45,648.48 555.58,640.98 553.72,648.48 551.85,657.87 549.99,659.74 548.11,652.24 546.25,648.48 544.01,640.98 542.14,652.24 540.28,663.50 538.42,640.98 536.55,652.24 535.05,674.78 533.93,639.10 532.81,607.15 531.32,601.52 529.45,610.91 527.59,616.56 525.73,620.31 523.84,624.06 521.98,622.19 521.09,629.04 519.48,637.18 517.85,632.29 516.23,630.67 514.61,627.41 513.00,627.41 511.38,624.18 509.77,637.18 508.15,622.55 506.54,619.29 504.92,616.04 503.31,620.92 501.67,622.55 500.06,633.92 498.44,632.29 496.83,629.04 495.21,625.81 493.60,619.29 491.98,632.29 490.37,650.20 489.07,638.81 487.46,619.29 485.84,607.90 484.79,625.44 483.18,622.19 481.56,614.07 479.95,618.95 478.33,625.44 476.72,609.19 475.10,617.33 473.49,625.44 471.87,638.47 470.26,627.07 468.62,617.33 467.01,618.95 465.39,607.56 463.78,605.93 461.35,615.70 459.73,618.95 458.12,625.44 456.50,609.19 454.89,618.95 453.27,610.81 451.66,599.42 450.04,602.68 448.42,605.93 446.81,612.44 445.18,638.47 443.56,654.75 441.95,661.26 440.33,654.75 438.72,667.77 437.10,651.49 435.49,638.47 433.87,644.98 432.25,658.00 430.64,644.98 429.01,641.72 426.59,638.47 425.12,644.12 423.75,646.88 422.39,645.50 421.02,648.26 419.65,646.88 418.29,650.99 416.92,648.26 414.86,648.26 412.80,639.98 410.76,637.22 409.39,638.60 408.03,659.27 406.66,677.15 405.29,673.04 403.91,675.77 402.54,674.39 401.17,675.77 399.81,670.28 398.44,652.37 397.07,648.26 395.02,642.74 393.65,639.98 392.28,642.74 390.91,656.51 389.55,666.14 387.51,650.99 386.12,634.49 384.76,645.50 383.39,639.98 382.02,635.87 380.66,642.74 379.29,659.27 377.92,675.77 376.56,650.99 375.19,648.26 373.82,639.98 372.45,648.26 371.09,666.14 369.72,659.27 368.35,648.26 367.24,657.96 365.32,659.25 363.42,663.07 361.52,665.62 360.24,669.47 358.98,668.18 357.70,664.36 356.44,657.96 355.17,663.07 353.91,660.51 352.63,659.25 350.73,655.40 349.45,659.25 348.19,652.85 347.21,644.57 345.39,636.68 344.09,641.95 342.78,645.88 341.46,647.19 340.17,655.09 339.12,673.49 338.20,649.84 336.90,651.15 335.59,649.84 334.29,647.19 332.98,644.57 331.67,645.88 330.37,641.95 329.06,641.95 327.76,644.57 326.45,656.40 325.13,655.09 323.84,653.77 322.52,656.40 321.21,655.09 319.91,653.77 318.60,655.09 317.31,647.19 315.99,649.84 314.68,662.98 313.38,673.49 312.07,662.98 310.77,649.84 309.46,643.26 308.15,647.19 306.85,649.84 304.88,649.84 303.58,659.04 302.27,628.79 300.98,615.65 299.66,620.90 298.35,618.28 297.05,619.59 295.19,616.92 293.50,618.59 291.83,615.22 290.15,621.98 288.46,610.16 286.79,611.83 285.11,610.16 283.44,608.46 281.75,606.77 280.07,611.83 278.40,632.11 276.71,606.77 275.03,598.33 273.36,601.70 271.67,611.83 270.00,613.53 268.65,618.59 266.97,621.98 265.30,603.40 263.61,596.64 261.94,601.70 260.26,613.53 258.57,628.74 256.90,613.53 255.22,610.16 253.55,608.46 251.86,603.40 251.26,618.59 249.84,612.85 248.40,605.64 246.68,620.04 244.83,634.44 243.39,651.69 241.96,650.27 239.83,637.31 238.39,640.19 236.95,653.14 235.53,637.31 234.38,622.91 232.67,627.23 231.24,627.23 229.80,634.44 228.38,633.00 226.94,637.31 225.52,625.81 224.08,630.12 222.64,634.44 221.22,631.55 219.79,637.31 218.37,635.87 216.93,640.19 215.51,637.31 214.07,633.00 212.63,631.55 211.21,628.68 209.78,622.91 208.36,628.68 206.92,630.12 205.48,637.31 204.06,640.19 202.62,630.12 201.20,634.44 199.77,637.31 198.33,631.55 196.91,634.44 195.47,637.31 194.05,651.69 192.61,657.46 191.51,648.71 189.45,643.19 186.72,647.33 184.68,651.44 182.62,650.09 179.89,645.95 177.15,643.19 175.78,651.44 174.13,666.59 172.36,648.71 170.30,643.19 168.26,651.44 166.20,662.48 164.14,659.72 162.10,659.72 160.73,662.48 159.37,674.87 158.00,670.73 155.94,661.10 153.88,651.44 152.51,648.71 150.47,650.09 149.11,645.95 147.74,643.19 146.36,623.93 144.99,618.41 143.62,617.03 141.58,622.55 139.52,618.41 137.46,621.17 135.42,626.66 133.36,629.42 131.75,616.26 129.88,620.04 128.00,607.51 126.14,623.79 124.27,623.79 122.41,636.32 120.55,628.79 118.06,617.53 116.18,613.78 114.32,610.02 112.45,596.23 110.59,605.00 108.73,617.53 106.86,608.76 106.24,593.20 104.36,581.94 102.50,585.70 101.25,598.22 100.01,600.73 98.15,586.94 96.90,580.70 95.04,583.19 93.16,584.45 91.92,589.97 90.05,591.23 88.81,597.50 86.95,600.01 85.08,601.25 83.22,616.26 81.98,613.78 80.09,607.51 78.23,612.51 76.37,612.51 75.12,601.25 72.37,626.12 71.13,629.88 69.27,639.89 68.02,631.12 66.14,628.63 64.28,629.88 62.42,628.63 60.55,637.38 59.31,643.64 58.07,624.86 56.82,616.11 54.96,611.09 53.70,614.84 52.46,613.60 50.59,617.35 48.73,622.37 47.49,632.38 46.49,618.59 46.39,616.11" fill="#5b9bd5"/>
<polyline points="46.39,592.30 46.87,606.09 47.74,613.60 49.35,603.58 51.22,594.81 53.08,589.81 54.96,592.93 56.82,587.93 58.07,599.83 59.31,624.86 61.17,618.59 63.04,608.58 64.90,607.33 66.78,607.97 68.65,611.09 69.89,618.59 71.75,606.09 73.37,589.81 75.12,588.20 76.56,686.40 78.34,611.79 80.11,686.40 81.89,588.50 83.66,590.31 85.44,572.22 87.21,683.01 88.81,554.40 90.05,570.66 91.92,571.93 93.78,563.15 96.03,551.89 97.53,578.19 99.39,578.19 101.25,583.19 103.12,559.40 104.98,565.66 106.86,580.70 108.73,598.22 110.59,586.94 112.20,571.93 114.32,588.20 116.18,594.47 118.06,598.22 119.16,686.40 120.55,583.19 122.41,596.95 124.27,600.73 126.14,590.71 127.38,581.94 129.24,595.71 131.13,593.20 132.37,601.97 133.36,611.54 135.42,608.78 137.46,601.88 139.52,597.77 140.89,599.15 142.26,603.26 143.62,597.07 144.99,600.53 146.36,606.02 147.74,626.66 149.11,629.42 151.15,630.80 153.21,628.04 154.57,643.19 156.63,647.33 158.67,654.20 160.04,656.96 161.41,641.81 163.47,640.43 165.53,641.81 166.89,640.43 168.67,621.17 170.30,605.34 172.36,623.93 174.13,648.71 175.78,634.94 177.15,623.93 179.19,626.66 181.25,629.42 183.29,632.18 185.35,631.50 187.41,626.66 189.45,621.85 191.51,622.55 193.32,640.19 194.05,620.04 195.47,609.96 196.91,617.17 198.33,611.40 199.77,617.17 201.20,608.53 202.62,611.40 204.06,621.49 205.48,618.59 206.92,608.53 208.36,611.40 209.78,605.64 211.21,602.77 212.63,611.40 214.07,609.96 215.51,615.72 216.93,620.04 218.37,615.72 219.79,614.27 221.22,609.96 222.64,607.08 224.08,604.21 225.52,620.04 226.94,611.40 228.38,607.08 229.80,607.08 231.24,605.64 232.67,612.85 234.09,598.45 235.25,597.00 236.67,631.55 238.11,625.81 239.53,608.53 241.25,625.81 242.68,633.00 244.10,620.04 245.54,611.40 246.96,594.13 248.68,585.49 250.12,605.64 251.26,586.94 251.86,588.18 253.55,586.49 255.22,583.12 256.90,593.25 258.57,608.46 260.26,584.81 261.94,569.60 263.61,564.53 265.30,569.60 266.97,588.18 268.65,605.09 269.49,588.18 271.17,594.94 272.84,586.49 274.53,576.36 276.21,578.05 277.88,586.49 279.07,613.53 280.40,591.57 282.09,584.81 283.76,571.29 285.11,574.66 286.28,589.88 287.96,594.94 289.65,603.40 291.32,598.33 293.01,593.25 294.67,591.57 296.36,594.94 297.05,595.91 300.32,588.05 301.61,602.49 302.93,641.95 304.24,635.37 305.54,628.79 307.51,630.10 309.46,626.17 310.77,623.54 312.07,634.06 313.38,653.77 314.68,641.95 315.99,627.48 317.94,626.17 319.91,624.86 321.21,634.06 322.52,636.68 323.84,634.06 325.13,636.02 326.45,637.99 328.40,613.01 329.71,618.28 331.03,622.21 332.32,626.17 333.88,627.48 335.20,628.79 336.51,631.41 337.81,639.30 339.12,655.09 340.42,632.75 341.73,620.90 343.43,628.79 345.39,622.21 347.21,618.28 348.19,637.52 349.45,632.41 350.73,634.96 352.63,640.07 353.91,636.25 355.17,643.92 356.44,642.63 357.70,646.47 358.98,645.18 360.24,650.29 361.52,646.47 363.42,645.18 365.32,642.63 367.24,640.07 368.35,639.98 369.72,628.97 371.09,619.34 372.45,628.97 373.82,633.11 375.19,635.87 376.56,639.98 377.92,656.51 379.29,656.51 380.66,635.87 382.02,634.49 383.39,612.44 384.76,615.20 386.12,606.95 387.51,619.34 388.59,642.74 389.96,631.73 391.61,619.34 392.97,620.72 394.34,619.34 395.71,620.72 397.07,623.48 398.44,628.97 399.81,655.13 401.17,656.51 402.54,656.51 403.91,655.13 405.29,653.75 406.66,655.13 408.03,642.74 409.39,623.48 410.76,619.34 412.80,620.72 414.86,622.10 416.23,626.21 417.59,628.97 418.96,631.73 420.33,623.48 421.69,622.10 423.08,627.59 424.44,626.21 425.81,623.48 426.59,622.19 428.21,620.56 429.50,617.33 431.12,631.96 432.73,638.47 434.35,635.21 435.96,628.70 437.58,631.96 438.72,651.49 440.33,635.21 441.95,641.72 443.56,638.47 445.18,622.19 446.81,586.40 448.42,597.79 450.04,584.77 451.66,573.37 453.27,586.40 454.89,602.68 456.50,578.26 458.12,604.30 459.73,607.56 461.35,601.05 462.98,584.77 464.60,583.14 466.21,597.79 467.83,602.68 469.44,605.93 471.06,609.19 472.67,620.56 474.29,605.93 475.90,592.91 477.52,586.40 479.15,604.30 480.77,599.42 482.38,597.79 484.00,607.56 485.84,585.11 487.46,594.87 489.07,607.90 490.69,629.04 492.30,612.78 493.92,599.76 495.53,604.64 497.15,611.15 498.76,614.41 500.40,614.41 502.01,603.01 503.63,599.76 505.24,594.87 506.86,591.62 508.47,607.90 509.77,619.29 511.38,603.01 513.00,598.13 514.61,604.64 516.23,607.90 517.85,609.53 519.48,616.04 521.09,611.15 521.98,597.77 523.84,601.52 525.73,599.65 527.59,595.89 529.45,597.77 531.32,588.39 532.81,586.49 534.67,657.87 535.99,640.98 537.30,625.94 538.79,624.06 540.28,640.98 541.58,648.48 542.89,625.94 544.75,629.69 546.62,620.31 548.50,635.32 550.36,639.10 552.23,637.20 554.09,625.94 555.95,614.68 557.82,624.06 559.68,637.20 561.56,629.69 563.36,636.59 564.90,626.89 567.17,628.27 569.04,620.76 570.90,600.10 572.41,581.31 573.70,571.93 575.02,600.10 576.14,628.27 577.43,596.34 578.75,613.23 580.61,633.90 582.47,611.36 584.35,613.23 586.22,628.27 587.71,609.48 589.95,609.48 591.81,613.23 593.67,620.76 595.55,622.64 597.42,605.73 598.91,545.63 600.40,543.75 601.71,596.34 603.58,600.10 605.33,569.42 607.07,583.43 608.81,588.70 610.55,576.42 612.31,560.64 614.05,546.62 615.79,532.58 617.88,558.88 619.62,511.56 621.36,558.88 623.05,591.05 624.79,591.94 626.08,595.44 627.40,603.33 628.27,610.34 629.14,619.09 630.01,625.24 631.32,617.35 632.62,615.59 633.93,612.96 635.24,612.08 636.54,617.35 637.41,621.74 638.72,615.59 639.59,622.59 640.46,619.09 641.78,615.59 643.52,612.96 645.25,613.84 647.53,615.59 648.47,617.67 650.46,616.65 652.44,615.65 654.43,613.64 656.42,609.64 658.41,615.65 660.41,619.66 661.99,629.67 663.59,589.61 665.38,631.68 667.57,541.54 669.36,589.61 671.37,625.67 672.75,589.61 674.35,591.62 675.93,581.60 677.52,585.60 679.12,609.64 680.31,559.56 682.30,585.60 683.61,615.65" fill="none" stroke="#ffff00" stroke-width="2.7" stroke-linejoin="round"/>
</g>
<rect x="45.5" y="460.3" width="639.0" height="226.09999999999997" fill="none" stroke="#3a3a3a" stroke-width="1.1"/>
<path d="M45.50,686.4v4.6 M54.38,686.4v4.6 M63.25,686.4v4.6 M72.12,686.4v4.6 M81.00,686.4v4.6 M89.88,686.4v4.6 M98.75,686.4v4.6 M107.62,686.4v4.6 M116.50,686.4v4.6 M125.38,686.4v4.6 M134.25,686.4v4.6 M143.12,686.4v4.6 M152.00,686.4v4.6 M160.88,686.4v4.6 M169.75,686.4v4.6 M178.62,686.4v4.6 M187.50,686.4v4.6 M196.38,686.4v4.6 M205.25,686.4v4.6 M214.12,686.4v4.6 M223.00,686.4v4.6 M231.88,686.4v4.6 M240.75,686.4v4.6 M249.62,686.4v4.6 M258.50,686.4v4.6 M267.38,686.4v4.6 M276.25,686.4v4.6 M285.12,686.4v4.6 M294.00,686.4v4.6 M302.88,686.4v4.6 M311.75,686.4v4.6 M320.62,686.4v4.6 M329.50,686.4v4.6 M338.38,686.4v4.6 M347.25,686.4v4.6 M356.12,686.4v4.6 M365.00,686.4v4.6 M373.88,686.4v4.6 M382.75,686.4v4.6 M391.62,686.4v4.6 M400.50,686.4v4.6 M409.38,686.4v4.6 M418.25,686.4v4.6 M427.12,686.4v4.6 M436.00,686.4v4.6 M444.88,686.4v4.6 M453.75,686.4v4.6 M462.62,686.4v4.6 M471.50,686.4v4.6 M480.38,686.4v4.6 M489.25,686.4v4.6 M498.12,686.4v4.6 M507.00,686.4v4.6 M515.88,686.4v4.6 M524.75,686.4v4.6 M533.62,686.4v4.6 M542.50,686.4v4.6 M551.38,686.4v4.6 M560.25,686.4v4.6 M569.12,686.4v4.6 M578.00,686.4v4.6 M586.88,686.4v4.6 M595.75,686.4v4.6 M604.62,686.4v4.6 M613.50,686.4v4.6 M622.38,686.4v4.6 M631.25,686.4v4.6 M640.12,686.4v4.6 M649.00,686.4v4.6 M657.88,686.4v4.6 M666.75,686.4v4.6 M675.62,686.4v4.6 M684.50,686.4v4.6" stroke="#333" stroke-width="1.1"/>
<text x="0" y="0" transform="translate(41.2,693.45) scale(0.765,1)" text-anchor="end" class="yl">0</text>
<text x="0" y="0" transform="translate(41.2,670.81) scale(0.765,1)" text-anchor="end" class="yl">100</text>
<text x="0" y="0" transform="translate(41.2,648.17) scale(0.765,1)" text-anchor="end" class="yl">200</text>
<text x="0" y="0" transform="translate(41.2,625.53) scale(0.765,1)" text-anchor="end" class="yl">300</text>
<text x="0" y="0" transform="translate(41.2,602.89) scale(0.765,1)" text-anchor="end" class="yl">400</text>
<text x="0" y="0" transform="translate(41.2,580.25) scale(0.765,1)" text-anchor="end" class="yl">500</text>
<text x="0" y="0" transform="translate(41.2,557.61) scale(0.765,1)" text-anchor="end" class="yl">600</text>
<text x="0" y="0" transform="translate(41.2,534.97) scale(0.765,1)" text-anchor="end" class="yl">700</text>
<text x="0" y="0" transform="translate(41.2,512.33) scale(0.765,1)" text-anchor="end" class="yl">800</text>
<text x="0" y="0" transform="translate(41.2,489.69) scale(0.765,1)" text-anchor="end" class="yl">900</text>
<text x="0" y="0" transform="translate(41.2,467.05) scale(0.765,1)" text-anchor="end" class="yl">1000</text>
<text transform="translate(50.69,696.60) scale(0.85,1) rotate(-90)" text-anchor="end" class="xl">1</text>
<text transform="translate(64.89,696.60) scale(0.85,1) rotate(-90)" text-anchor="end" class="xl">9</text>
<text transform="translate(79.09,696.60) scale(0.85,1) rotate(-90)" text-anchor="end" class="xl">17</text>
<text transform="translate(93.29,696.60) scale(0.85,1) rotate(-90)" text-anchor="end" class="xl">25</text>
<text transform="translate(107.49,696.60) scale(0.85,1) rotate(-90)" text-anchor="end" class="xl">33</text>
<text transform="translate(121.69,696.60) scale(0.85,1) rotate(-90)" text-anchor="end" class="xl">41</text>
<text transform="translate(135.89,696.60) scale(0.85,1) rotate(-90)" text-anchor="end" class="xl">49</text>
<text transform="translate(150.09,696.60) scale(0.85,1) rotate(-90)" text-anchor="end" class="xl">57</text>
<text transform="translate(164.29,696.60) scale(0.85,1) rotate(-90)" text-anchor="end" class="xl">65</text>
<text transform="translate(178.49,696.60) scale(0.85,1) rotate(-90)" text-anchor="end" class="xl">73</text>
<text transform="translate(192.69,696.60) scale(0.85,1) rotate(-90)" text-anchor="end" class="xl">81</text>
<text transform="translate(206.89,696.60) scale(0.85,1) rotate(-90)" text-anchor="end" class="xl">89</text>
<text transform="translate(221.09,696.60) scale(0.85,1) rotate(-90)" text-anchor="end" class="xl">97</text>
<text transform="translate(235.29,696.60) scale(0.85,1) rotate(-90)" text-anchor="end" class="xl">105</text>
<text transform="translate(249.49,696.60) scale(0.85,1) rotate(-90)" text-anchor="end" class="xl">113</text>
<text transform="translate(263.69,696.60) scale(0.85,1) rotate(-90)" text-anchor="end" class="xl">121</text>
<text transform="translate(277.89,696.60) scale(0.85,1) rotate(-90)" text-anchor="end" class="xl">129</text>
<text transform="translate(292.09,696.60) scale(0.85,1) rotate(-90)" text-anchor="end" class="xl">137</text>
<text transform="translate(306.29,696.60) scale(0.85,1) rotate(-90)" text-anchor="end" class="xl">145</text>
<text transform="translate(320.49,696.60) scale(0.85,1) rotate(-90)" text-anchor="end" class="xl">153</text>
<text transform="translate(334.69,696.60) scale(0.85,1) rotate(-90)" text-anchor="end" class="xl">161</text>
<text transform="translate(348.89,696.60) scale(0.85,1) rotate(-90)" text-anchor="end" class="xl">169</text>
<text transform="translate(363.09,696.60) scale(0.85,1) rotate(-90)" text-anchor="end" class="xl">177</text>
<text transform="translate(377.29,696.60) scale(0.85,1) rotate(-90)" text-anchor="end" class="xl">185</text>
<text transform="translate(391.49,696.60) scale(0.85,1) rotate(-90)" text-anchor="end" class="xl">193</text>
<text transform="translate(405.69,696.60) scale(0.85,1) rotate(-90)" text-anchor="end" class="xl">201</text>
<text transform="translate(419.89,696.60) scale(0.85,1) rotate(-90)" text-anchor="end" class="xl">209</text>
<text transform="translate(434.09,696.60) scale(0.85,1) rotate(-90)" text-anchor="end" class="xl">217</text>
<text transform="translate(448.29,696.60) scale(0.85,1) rotate(-90)" text-anchor="end" class="xl">225</text>
<text transform="translate(462.49,696.60) scale(0.85,1) rotate(-90)" text-anchor="end" class="xl">233</text>
<text transform="translate(476.69,696.60) scale(0.85,1) rotate(-90)" text-anchor="end" class="xl">241</text>
<text transform="translate(490.89,696.60) scale(0.85,1) rotate(-90)" text-anchor="end" class="xl">249</text>
<text transform="translate(505.09,696.60) scale(0.85,1) rotate(-90)" text-anchor="end" class="xl">257</text>
<text transform="translate(519.29,696.60) scale(0.85,1) rotate(-90)" text-anchor="end" class="xl">265</text>
<text transform="translate(533.49,696.60) scale(0.85,1) rotate(-90)" text-anchor="end" class="xl">273</text>
<text transform="translate(547.69,696.60) scale(0.85,1) rotate(-90)" text-anchor="end" class="xl">281</text>
<text transform="translate(561.89,696.60) scale(0.85,1) rotate(-90)" text-anchor="end" class="xl">289</text>
<text transform="translate(576.09,696.60) scale(0.85,1) rotate(-90)" text-anchor="end" class="xl">297</text>
<text transform="translate(590.29,696.60) scale(0.85,1) rotate(-90)" text-anchor="end" class="xl">305</text>
<text transform="translate(604.49,696.60) scale(0.85,1) rotate(-90)" text-anchor="end" class="xl">313</text>
<text transform="translate(618.69,696.60) scale(0.85,1) rotate(-90)" text-anchor="end" class="xl">321</text>
<text transform="translate(632.89,696.60) scale(0.85,1) rotate(-90)" text-anchor="end" class="xl">329</text>
<text transform="translate(647.09,696.60) scale(0.85,1) rotate(-90)" text-anchor="end" class="xl">337</text>
<text transform="translate(661.29,696.60) scale(0.85,1) rotate(-90)" text-anchor="end" class="xl">345</text>
<text transform="translate(675.49,696.60) scale(0.85,1) rotate(-90)" text-anchor="end" class="xl">353</text>
<text transform="translate(7.0,635.60) scale(0.86,1) rotate(-90)" class="yt" style="letter-spacing:1.12px">Evaporation value (mm)</text>
<text transform="translate(322.5,737.5) scale(0.822,1)" class="xt">Number of month</text>
<line x1="328.8" y1="529.4" x2="321.28" y2="595.24" stroke="#000" stroke-width="1.05"/><polygon points="320.6,601.2 318.41,593.90 324.37,594.59" fill="#000"/>
<line x1="348.2" y1="534.1" x2="340.69" y2="599.34" stroke="#000" stroke-width="1.05"/><polygon points="340.0,605.3 337.82,598.00 343.78,598.69" fill="#000"/>
<line x1="312.1" y1="679.1" x2="355.21" y2="656.12" stroke="#000" stroke-width="1.05"/><polygon points="360.5,653.3 355.73,659.24 352.91,653.95" fill="#000"/>
<text transform="translate(169.6,803.4) scale(0.952,1)" class="cap">GRU-MKELM (PINW=0.96, PINW=0.10)</text>
</svg>
</body></html>
